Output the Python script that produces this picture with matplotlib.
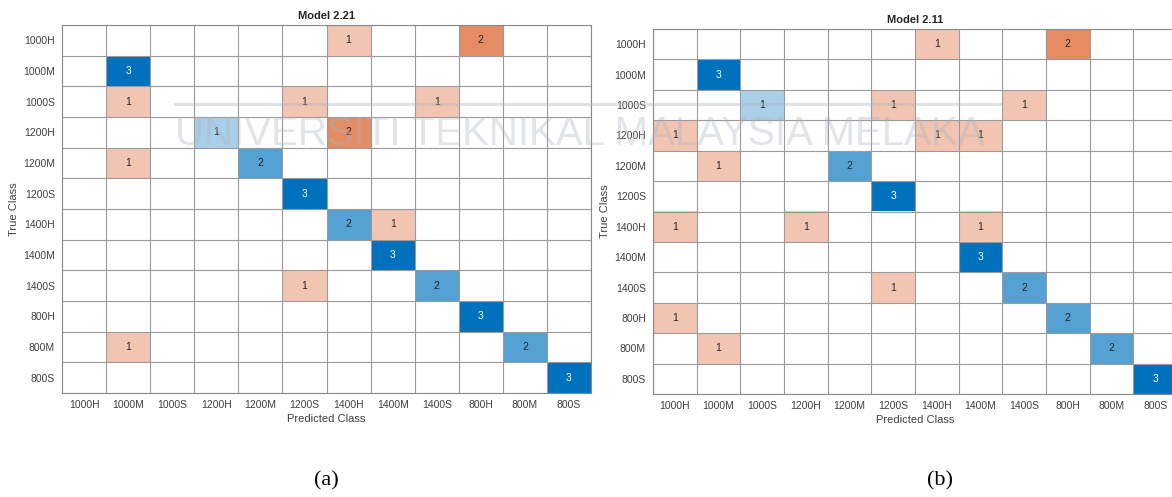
import numpy as np
import matplotlib.pyplot as plt

classes = ['1000H', '1000M', '1000S', '1200H', '1200M', '1200S',
           '1400H', '1400M', '1400S', '800H', '800M', '800S']

# rows = true class, cols = predicted class
cm_221 = np.array([
    [0, 0, 0, 0, 0, 0, 1, 0, 0, 2, 0, 0],
    [0, 3, 0, 0, 0, 0, 0, 0, 0, 0, 0, 0],
    [0, 1, 0, 0, 0, 1, 0, 0, 1, 0, 0, 0],
    [0, 0, 0, 1, 0, 0, 2, 0, 0, 0, 0, 0],
    [0, 1, 0, 0, 2, 0, 0, 0, 0, 0, 0, 0],
    [0, 0, 0, 0, 0, 3, 0, 0, 0, 0, 0, 0],
    [0, 0, 0, 0, 0, 0, 2, 1, 0, 0, 0, 0],
    [0, 0, 0, 0, 0, 0, 0, 3, 0, 0, 0, 0],
    [0, 0, 0, 0, 0, 1, 0, 0, 2, 0, 0, 0],
    [0, 0, 0, 0, 0, 0, 0, 0, 0, 3, 0, 0],
    [0, 1, 0, 0, 0, 0, 0, 0, 0, 0, 2, 0],
    [0, 0, 0, 0, 0, 0, 0, 0, 0, 0, 0, 3],
])

cm_211 = np.array([
    [0, 0, 0, 0, 0, 0, 1, 0, 0, 2, 0, 0],
    [0, 3, 0, 0, 0, 0, 0, 0, 0, 0, 0, 0],
    [0, 0, 1, 0, 0, 1, 0, 0, 1, 0, 0, 0],
    [1, 0, 0, 0, 0, 0, 1, 1, 0, 0, 0, 0],
    [0, 1, 0, 0, 2, 0, 0, 0, 0, 0, 0, 0],
    [0, 0, 0, 0, 0, 3, 0, 0, 0, 0, 0, 0],
    [1, 0, 0, 1, 0, 0, 0, 1, 0, 0, 0, 0],
    [0, 0, 0, 0, 0, 0, 0, 3, 0, 0, 0, 0],
    [0, 0, 0, 0, 0, 1, 0, 0, 2, 0, 0, 0],
    [1, 0, 0, 0, 0, 0, 0, 0, 0, 2, 0, 0],
    [0, 1, 0, 0, 0, 0, 0, 0, 0, 0, 2, 0],
    [0, 0, 0, 0, 0, 0, 0, 0, 0, 0, 0, 3],
])

titles = ['Model 2.21', 'Model 2.11']
captions = ['(a)', '(b)']

blue = np.array([0, 114, 189]) / 255
orange = np.array([217, 83, 25]) / 255

plt.rcParams['font.family'] = ['Liberation Sans', 'DejaVu Sans']

fig = plt.figure(figsize=(11.72, 4.97), dpi=100)
positions = [[0.0529, 0.2093, 0.4514, 0.7404],
             [0.5572, 0.2072, 0.4471, 0.7344]]


def draw_cm(ax, cm, title):
    n = len(classes)
    vmax = cm.max()
    img = np.ones((n, n, 3))
    for i in range(n):
        for j in range(n):
            v = cm[i, j]
            if v == 0:
                continue
            c = blue if i == j else orange
            a = v / vmax
            img[i, j] = 1 - (1 - c) * a
            tc = 'white' if (i == j and a > 0.9) else '#262626'
            ax.text(j, i, str(v), ha='center', va='center',
                    fontsize=7.5, color=tc)
    ax.imshow(img, aspect='auto', interpolation='nearest')
    ax.set_xticks(range(n))
    ax.set_xticklabels(classes)
    ax.set_yticks(range(n))
    ax.set_yticklabels(classes)
    ax.set_xticks(np.arange(-0.5, n), minor=True)
    ax.set_yticks(np.arange(-0.5, n), minor=True)
    ax.grid(which='minor', color='#9a9a9a', linewidth=0.8)
    ax.tick_params(which='both', length=0)
    ax.tick_params(labelsize=7.5, colors='#404040', pad=5)
    for s in ax.spines.values():
        s.set_color('#8a8a8a')
        s.set_linewidth(0.8)
    ax.set_xlabel('Predicted Class', fontsize=8, color='#404040', labelpad=3)
    ax.set_ylabel('True Class', fontsize=8, color='#404040', labelpad=3)
    ax.set_title(title, fontsize=8, fontweight='bold', color='#262626', pad=4)


for k, cm in enumerate([cm_221, cm_211]):
    ax = fig.add_axes(positions[k])
    draw_cm(ax, cm, titles[k])

fig.text(326 / 1172, 1 - 481 / 497, captions[0], ha='center', va='center',
         fontsize=16, family='Liberation Serif')
fig.text(940 / 1172, 1 - 481 / 497, captions[1], ha='center', va='center',
         fontsize=16, family='Liberation Serif')

# faint university watermark over the page
fig.text(580 / 1172, 1 - 134 / 497, 'UNIVERSITI TEKNIKAL MALAYSIA MELAKA',
         ha='center', va='center', fontsize=29,
         color='#aab2bf', alpha=0.35)
fig.add_artist(plt.Line2D([175 / 1172, 1000 / 1172], [1 - 104 / 497] * 2,
                          transform=fig.transFigure, color='#aab2bf',
                          alpha=0.4, linewidth=2))

fig.savefig('out.png', dpi=100)
